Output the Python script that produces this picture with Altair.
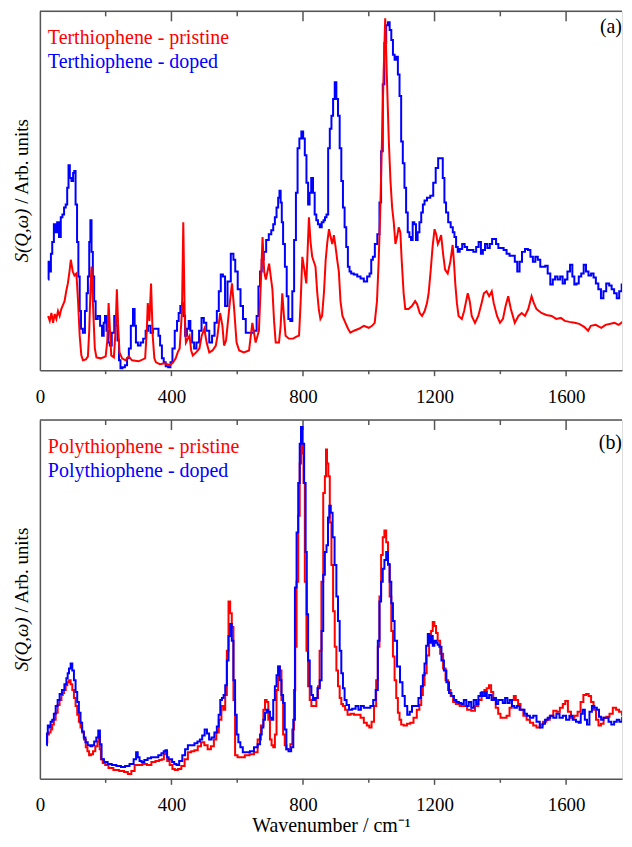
import altair as alt
import pandas as pd

FONT = "Liberation Serif"

# ---------------- Panel (a): Terthiophene ----------------
ter_pristine = [
    (25,55),(30,50),(35,58),(40,48),(45,57),(50,52),(55,60),(60,55),(65,62),(70,66),(75,70),(80,80),(85,88),(90,100),
    (94,112),(100,100),(105,96),(111,98),(116,70),(121,35),(126,15),(131,10),(140,11),(146,14),(150,40),(154,85),
    (157,105),(161,70),(167,22),(172,13),(185,12),(200,14),(205,30),(209,68),(213,40),(217,15),(225,13),(230,40),
    (234,82),(238,45),(242,18),(250,12),(260,10),(270,14),(280,10),(300,9),(320,12),(325,40),(328,68),(333,50),
    (338,88),(343,35),(348,12),(353,8),(365,6),(380,7),(395,5),(405,8),(413,12),(419,18),(425,22),(432,60),(436,150),
    (440,60),(444,28),(450,32),(455,35),(460,20),(465,15),(475,18),(485,22),(492,35),(500,42),(507,28),(515,18),
    (525,20),(535,25),(540,35),(548,58),(555,45),(560,25),(566,30),(572,50),(578,70),(584,88),(590,65),(598,28),
    (606,20),(620,18),(636,20),(646,48),(656,28),(666,40),(672,90),(677,135),(682,100),(687,92),(692,100),(697,108),
    (702,95),(707,82),(712,50),(717,28),(727,28),(732,45),(737,78),(742,55),(747,35),(757,32),(770,32),(780,34),
    (788,35),(793,70),(798,115),(805,100),(810,88),(814,120),(818,155),(823,130),(828,115),(833,110),(838,105),
    (843,80),(848,62),(853,52),(858,55),(864,80),(869,112),(874,130),(879,143),(884,135),(889,128),(894,137),
    (899,125),(904,112),(909,100),(914,70),(920,55),(929,48),(937,42),(944,38),(955,40),(970,42),(985,45),(1000,43),
    (1010,45),(1018,48),(1025,70),(1030,110),(1035,162),(1040,232),(1045,300),(1050,357),(1055,298),(1061,232),
    (1066,192),(1071,165),(1076,150),(1081,128),(1086,135),(1091,145),(1096,140),(1100,112),(1106,78),(1111,62),
    (1121,62),(1131,65),(1141,70),(1147,67),(1155,58),(1162,55),(1170,60),(1177,68),(1182,78),(1188,100),(1194,125),
    (1200,143),(1205,138),(1210,128),(1215,132),(1220,137),(1226,118),(1232,102),(1240,98),(1248,110),(1255,127),
    (1259,110),(1263,88),(1268,68),(1273,55),(1283,52),(1290,60),(1296,70),(1301,78),(1307,70),(1313,55),(1323,48),
    (1333,55),(1343,68),(1350,78),(1358,80),(1366,75),(1374,80),(1380,68),(1390,55),(1399,48),(1408,52),(1416,65),
    (1424,75),(1432,62),(1444,48),(1455,55),(1465,58),(1475,55),(1485,62),(1495,75),(1502,68),(1510,62),(1525,58),
    (1540,56),(1556,55),(1570,52),(1584,53),(1596,50),(1610,49),(1626,48),(1640,47),(1655,44),(1667,40),(1675,45),
    (1690,46),(1707,43),(1720,46),(1735,47),(1747,48),(1760,46),(1775,50),(1788,52),(1800,50),
]

ter_doped = [
    (25,92),(28,110),(32,100),(35,118),(40,130),(45,148),(50,140),(55,150),(61,135),(66,155),(71,158),(76,165),
    (81,168),(85,185),(89,208),(93,195),(99,192),(103,200),(106,202),(111,168),(115,130),(119,95),(123,60),(127,42),
    (134,38),(140,60),(144,78),(148,95),(152,130),(155,152),(159,120),(163,95),(167,70),(172,52),(180,55),(186,45),
    (192,35),(196,48),(200,55),(205,40),(210,28),(215,25),(222,38),(230,55),(234,45),(238,30),(243,10),(247,2),
    (255,3),(262,5),(268,12),(273,22),(280,45),(286,62),(290,45),(294,28),(302,25),(310,28),(318,32),(325,40),
    (333,45),(340,38),(348,42),(358,42),(363,35),(368,25),(374,12),(379,8),(386,4),(394,3),(400,8),(406,22),(414,40),
    (420,50),(424,58),(430,65),(434,68),(439,55),(444,35),(450,42),(455,50),(460,40),(466,28),(472,22),(480,28),
    (488,40),(495,53),(502,48),(510,40),(520,28),(527,35),(535,48),(541,60),(547,80),(553,97),(560,95),(566,65),
    (575,90),(586,118),(591,112),(597,100),(606,82),(614,65),(621,52),(631,38),(645,38),(656,40),(662,55),(667,85),
    (672,100),(677,112),(684,120),(692,132),(700,138),(707,142),(712,148),(717,155),(722,165),(727,175),(730,182),
    (734,170),(737,150),(742,128),(748,105),(753,75),(758,52),(765,50),(770,80),(776,132),(781,180),(786,225),
    (792,235),(798,242),(803,235),(808,218),(813,190),(818,168),(822,180),(828,195),(833,180),(838,158),(843,152),
    (848,148),(854,145),(860,150),(865,152),(869,155),(874,158),(879,225),(884,245),(889,258),(894,275),(899,292),
    (904,275),(909,258),(914,225),(919,192),(924,165),(929,145),(934,125),(939,105),(944,100),(949,98),(960,97),
    (970,95),(980,93),(990,90),(1000,95),(1005,98),(1010,112),(1015,115),(1022,128),(1030,138),(1035,170),(1040,222),
    (1045,290),(1050,332),(1056,350),(1061,353),(1066,345),(1071,335),(1076,320),(1081,315),(1086,318),(1091,300),
    (1096,278),(1101,232),(1106,210),(1111,185),(1116,160),(1121,140),(1126,135),(1131,132),(1136,150),(1141,148),
    (1146,132),(1151,140),(1157,150),(1162,160),(1167,168),(1172,172),(1182,175),(1192,177),(1200,190),(1207,205),
    (1215,215),(1222,215),(1228,195),(1232,170),(1238,160),(1245,150),(1253,145),(1258,140),(1263,135),(1268,125),
    (1273,120),(1280,123),(1288,128),(1295,125),(1303,122),(1313,122),(1323,120),(1330,125),(1338,130),(1344,118),
    (1350,122),(1357,128),(1364,124),(1372,128),(1378,133),(1384,133),(1390,128),(1398,124),(1406,124),(1414,122),
    (1424,118),(1432,116),(1440,116),(1448,110),(1455,100),(1462,110),(1470,120),(1480,123),(1488,122),(1495,115),
    (1503,110),(1510,115),(1518,112),(1525,105),(1533,105),(1540,106),(1548,98),(1556,87),(1563,92),(1570,95),
    (1578,92),(1586,95),(1593,88),(1600,92),(1608,100),(1616,107),(1622,95),(1628,87),(1635,88),(1642,95),(1650,98),
    (1657,107),(1664,100),(1672,96),(1680,98),(1687,94),(1694,88),(1702,82),(1710,73),(1717,80),(1727,88),(1735,86),
    (1742,82),(1750,78),(1758,73),(1765,80),(1773,87),(1780,82),(1788,78),(1795,80),
]

# ---------------- Panel (b): Polythiophene ----------------
poly_pristine = [
    (20,37),(25,45),(30,47),(35,50),(40,55),(45,60),(51,67),(57,75),(63,80),(68,85),(71,87),(76,90),(81,95),(86,98),
    (91,100),(96,96),(101,90),(106,82),(111,74),(116,65),(121,58),(126,52),(131,47),(137,40),(142,32),(147,28),
    (152,24),(158,25),(165,28),(172,33),(178,38),(180,44),(184,30),(187,20),(195,16),(202,14),(215,11),(232,9),
    (250,8),(262,7),(273,5),(283,8),(293,14),(305,14),(318,15),(333,14),(345,17),(358,18),(367,19),(374,20),(380,25),
    (384,27),(390,18),(399,14),(407,10),(414,9),(425,10),(435,13),(445,20),(455,27),(465,28),(475,29),(485,33),
    (495,37),(505,34),(515,30),(525,33),(533,40),(540,47),(548,60),(556,74),(561,70),(566,85),(571,130),(576,180),
    (581,168),(586,154),(591,80),(596,24),(606,22),(616,22),(630,24),(645,25),(657,27),(667,40),(677,54),(682,70),
    (687,80),(692,78),(697,60),(702,40),(707,34),(712,32),(717,45),(722,90),(727,114),(732,110),(737,80),(742,45),
    (747,34),(752,30),(758,30),(765,35),(770,50),(775,90),(778,134),(783,200),(788,267),(792,320),(796,354),(800,330),
    (803,300),(808,200),(813,130),(818,94),(823,80),(828,74),(838,74),(843,82),(848,94),(853,130),(859,200),(864,290),
    (869,307),(871,334),(875,320),(879,307),(884,260),(889,217),(894,170),(899,134),(904,110),(909,94),(914,82),
    (919,76),(924,74),(932,70),(939,65),(950,66),(960,65),(970,65),(980,62),(990,57),(998,54),(1005,52),(1012,58),
    (1020,74),(1025,100),(1030,134),(1035,185),(1040,227),(1045,245),(1050,252),(1056,240),(1061,217),(1066,185),
    (1071,150),(1076,124),(1081,100),(1086,82),(1091,67),(1096,60),(1101,55),(1111,54),(1121,56),(1131,57),(1141,62),
    (1151,70),(1157,75),(1162,85),(1167,95),(1172,107),(1180,125),(1187,140),(1192,150),(1197,159),(1202,155),
    (1207,148),(1212,140),(1222,127),(1230,112),(1237,100),(1245,90),(1253,84),(1260,78),(1270,76),(1283,74),
    (1293,74),(1305,70),(1318,69),(1328,74),(1338,80),(1348,88),(1355,90),(1362,92),(1369,95),(1375,88),(1382,80),
    (1390,72),(1397,66),(1404,62),(1414,62),(1424,64),(1432,72),(1438,80),(1444,84),(1450,80),(1458,76),(1465,70),
    (1475,64),(1485,60),(1495,57),(1505,54),(1515,52),(1525,55),(1535,58),(1545,60),(1556,64),(1566,69),(1576,68),
    (1586,72),(1594,76),(1601,79),(1610,68),(1620,62),(1630,64),(1640,68),(1648,78),(1657,85),(1665,86),(1672,84),
    (1680,78),(1687,70),(1695,60),(1702,54),(1710,56),(1718,62),(1727,63),(1737,66),(1747,72),(1757,70),(1765,68),
    (1775,65),(1783,62),(1795,64),
]

poly_doped = [
    (20,34),(23,46),(25,54),(30,52),(35,58),(40,60),(45,66),(51,74),(57,80),(63,86),(71,90),(78,96),(83,102),(86,107),
    (91,112),(96,117),(101,110),(106,100),(111,88),(116,78),(121,67),(126,57),(131,48),(136,42),(141,37),(150,34),
    (157,33),(162,34),(168,38),(175,42),(180,49),(185,35),(190,20),(200,17),(212,15),(225,14),(240,13),(253,12),
    (265,13),(280,15),(290,20),(295,27),(300,22),(306,18),(313,17),(322,19),(333,21),(343,22),(355,22),(365,24),
    (374,26),(379,28),(384,29),(389,22),(394,20),(399,20),(405,17),(412,15),(419,14),(428,18),(438,24),(445,30),
    (455,34),(465,34),(475,36),(483,38),(490,40),(497,44),(505,50),(511,46),(518,40),(526,42),(535,47),(541,53),
    (546,65),(551,80),(556,82),(561,85),(566,95),(571,120),(576,145),(581,157),(586,140),(591,100),(596,65),(601,45),
    (606,37),(613,32),(621,27),(632,27),(645,28),(657,32),(667,35),(672,45),(677,52),(682,60),(687,67),(692,70),
    (697,68),(702,62),(707,60),(712,80),(717,94),(722,105),(727,114),(732,100),(737,85),(742,77),(747,50),(752,30),
    (760,28),(768,32),(773,60),(778,194),(783,250),(788,300),(792,340),(796,357),(801,340),(806,300),(810,230),
    (813,167),(818,120),(823,94),(828,85),(833,80),(840,82),(848,92),(854,100),(859,150),(864,207),(869,230),
    (874,237),(878,265),(882,277),(887,270),(893,245),(899,217),(904,185),(909,160),(914,130),(919,107),(924,92),
    (929,80),(936,75),(944,70),(955,71),(965,74),(972,70),(980,74),(990,72),(1000,72),(1010,74),(1017,80),(1025,90),
    (1030,140),(1035,180),(1040,200),(1045,213),(1050,222),(1056,230),(1061,218),(1066,200),(1071,178),(1076,160),
    (1081,140),(1091,114),(1099,98),(1106,84),(1113,74),(1121,65),(1128,68),(1135,74),(1147,74),(1155,82),(1162,94),
    (1167,105),(1172,117),(1177,135),(1182,147),(1187,138),(1192,145),(1197,135),(1202,140),(1207,138),(1212,136),
    (1217,134),(1225,120),(1232,110),(1240,98),(1248,87),(1255,84),(1263,80),(1270,78),(1278,77),(1285,76),(1293,80),
    (1300,74),(1308,78),(1315,72),(1323,80),(1330,76),(1337,84),(1343,87),(1350,84),(1356,88),(1362,82),(1370,85),
    (1377,80),(1384,82),(1390,76),(1397,80),(1404,80),(1411,77),(1418,82),(1425,77),(1432,80),(1439,74),(1446,72),
    (1455,74),(1462,70),(1470,70),(1477,66),(1485,64),(1495,62),(1505,64),(1515,58),(1525,52),(1532,56),(1540,60),
    (1548,62),(1556,64),(1566,62),(1575,66),(1585,62),(1595,64),(1605,60),(1615,64),(1625,60),(1635,58),(1642,57),
    (1647,66),(1654,70),(1660,60),(1667,55),(1675,68),(1682,74),(1690,72),(1697,70),(1703,63),(1710,60),(1717,62),
    (1725,62),(1733,58),(1742,55),(1750,58),(1758,60),(1766,58),(1775,62),(1783,62),(1793,65),
]

tick_labels = [0, 400, 800, 1200, 1600]
major_ticks = [400, 800, 1200, 1600]
minor_ticks = [200, 600, 1000, 1400]
X_MAX = 1770          # visible end of the wavenumber axis
Y_MAX = 364           # intensity range (arb. units)

W, H = 584, 360
RED, BLUE, FRAME = "#ff0000", "#0000ff", "#555555"


def to_df(pairs):
    return pd.DataFrame(pairs, columns=["wn", "s"])


def panel(pristine, doped, name_p, name_d, tag, tag_y, interp_p, interp_d, red_on_top, xtitle):
    xscale = alt.Scale(domain=[0, X_MAX], nice=False, zero=False)
    yscale = alt.Scale(domain=[0, Y_MAX], nice=False, zero=False)
    xaxis = alt.Axis(values=tick_labels, format="d", ticks=False, domain=True, domainColor=FRAME,
                     domainWidth=1.5, grid=False,
                     labelFont=FONT, labelFontSize=19, labelColor="black", labelPadding=17,
                     labelFlush=False, title=xtitle, titleFont=FONT, titleFontSize=20,
                     titleFontWeight="normal", titleColor="black", titlePadding=1)
    yaxis = alt.Axis(labels=False, ticks=False, domain=True, domainColor=FRAME, domainWidth=1.5,
                     grid=False, title=None)
    x = alt.X("wn:Q", scale=xscale, axis=xaxis)
    y = alt.Y("s:Q", scale=yscale, axis=yaxis)

    red = alt.Chart(to_df(pristine)).mark_line(color=RED, strokeWidth=2, interpolate=interp_p,
                                                clip=True).encode(x=x, y=y)
    blue = alt.Chart(to_df(doped)).mark_line(color=BLUE, strokeWidth=2, interpolate=interp_d,
                                              clip=True).encode(x=x, y=y)

    xt = alt.X("t:Q", scale=xscale)

    def ticks(vals, y0, y1):
        return alt.Chart(pd.DataFrame({"t": vals})).mark_rule(color=FRAME, strokeWidth=1.5).encode(
            x=xt, y=alt.value(y0), y2=alt.value(y1))

    one = pd.DataFrame({"k": [0]})

    def txt(text, color, xv, yv, size=20, align="left", angle=0, style="normal", baseline="alphabetic"):
        return alt.Chart(one).mark_text(text=text, color=color, font=FONT, fontSize=size, align=align,
                                        angle=angle, fontStyle=style, baseline=baseline).encode(
            x=alt.value(xv), y=alt.value(yv))

    top_line = alt.Chart(one).mark_rule(color=FRAME, strokeWidth=1.5).encode(
        x=alt.value(0), x2=alt.value(W), y=alt.value(0))

    layers = [
        top_line,
        ticks(major_ticks, 0, 10), ticks(minor_ticks, 0, 5),
        ticks(major_ticks, H, H + 6), ticks(minor_ticks, H, H + 4),
    ]
    layers += [blue, red] if red_on_top else [red, blue]
    layers += [
        txt(name_p, RED, 8, 33),
        txt(name_d, BLUE, 8, 57),
        txt(tag, "black", 584, tag_y, align="right"),
        txt("S(Q,ω)", "black", -18, 198, size=19, angle=270, align="right", style="italic", baseline="middle"),
        txt("/ Arb. units", "black", -18, 193, size=19, angle=270, align="left", baseline="middle"),
    ]
    return alt.layer(*layers).properties(width=W, height=H)


pa = panel(ter_pristine, ter_doped, "Terthiophene - pristine", "Terthiophene - doped", "(a)", 22,
           "linear", "step", True, None)
pb = panel(poly_pristine, poly_doped, "Polythiophene - pristine", "Polythiophene - doped", "(b)", 29,
           "step", "step", False, "Wavenumber / cm⁻¹")

chart = alt.vconcat(pa, pb, spacing=11).properties(
    padding={"left": 4, "top": 0, "right": 0, "bottom": 0}
).configure_view(stroke=None).configure(background="white")

chart.save("out.html", embed_options={"renderer": "svg", "actions": False})
